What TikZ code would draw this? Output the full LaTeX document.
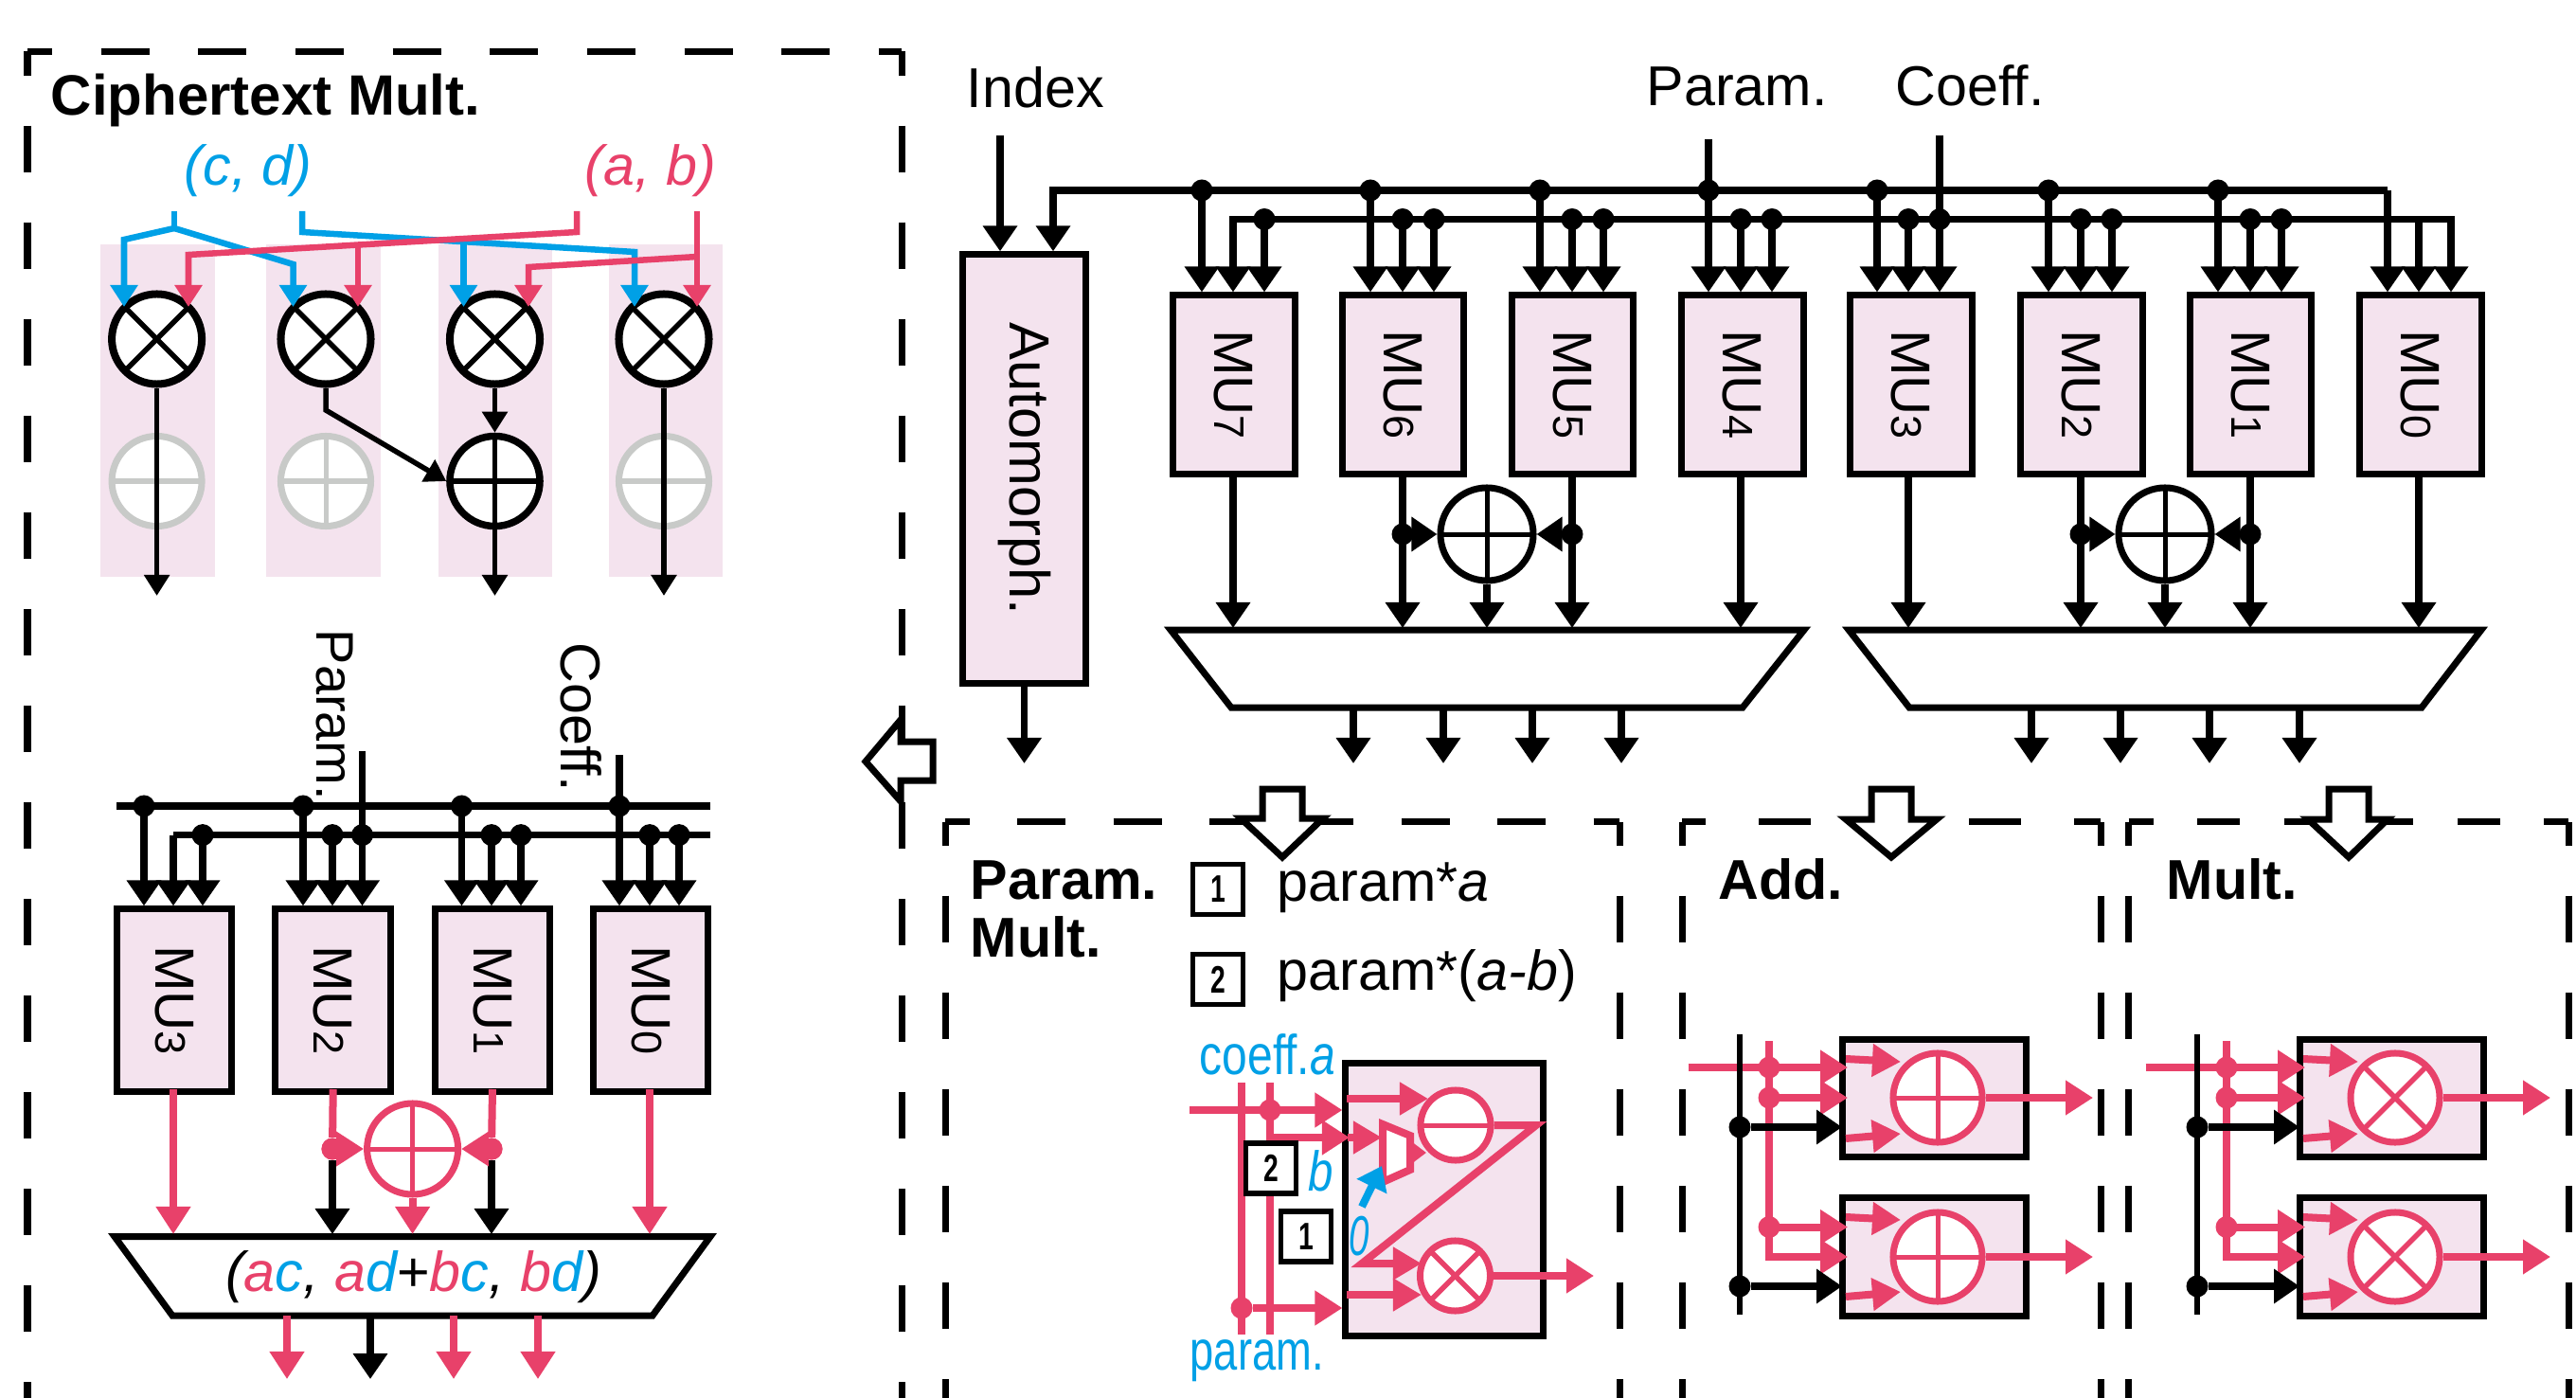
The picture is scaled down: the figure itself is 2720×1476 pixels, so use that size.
\documentclass[tikz,border=0pt]{standalone}
\usepackage{fontspec}
\setmainfont{Liberation Sans}
\usetikzlibrary{arrows.meta}
\definecolor{cpink}{HTML}{F4E3EE}
\definecolor{cred}{HTML}{E8416A}
\definecolor{cblue}{HTML}{00A0E6}
\definecolor{cgrey}{HTML}{C8CAC8}
\newcommand{\mulab}[1]{\rotatebox{-90}{\fontsize{16.6}{18}\selectfont MU\fontsize{12.8}{14}\selectfont #1}}
\newcommand{\nar}[2]{\scalebox{#1}[1]{#2}}
\tikzset{
  wire/.style={line width=.075cm,black},
  rwire/.style={line width=.08cm,cred},
  bwire/.style={line width=.065cm,cblue},
  tipk/.style={-{Triangle[length=.27cm,width=.35cm]}},
  arr/.style={wire,tipk},
  rarr/.style={rwire,-{Triangle[length=.29cm,width=.35cm]}},
  sarr/.style={line width=.065cm,#1,-{Triangle[length=.23cm,width=.28cm]}},
  karr/.style={line width=.055cm,-{Triangle[length=.22cm,width=.26cm]}},
  inarr/.style={rwire,-{Triangle[length=.3cm,width=.33cm]}},
  mubox/.style={draw=black,fill=cpink,line width=.07cm,inner sep=0,minimum height=1.88cm},
  dot/.style={circle,fill=#1,inner sep=0,minimum size=.23cm},
  dot/.default=black,
  cbase/.style={circle,draw=#1,fill=white,line width=.07cm,inner sep=0,minimum size=.95cm},
  oplusn/.style={cbase=#1,path picture={
     \draw[#1,line width=.05cm] (path picture bounding box.north) -- (path picture bounding box.south);
     \draw[#1,line width=.05cm] (path picture bounding box.west) -- (path picture bounding box.east);}},
  otimesn/.style={cbase=#1,path picture={
     \draw[#1,line width=.055cm] (path picture bounding box.north west) -- (path picture bounding box.south east);
     \draw[#1,line width=.055cm] (path picture bounding box.north east) -- (path picture bounding box.south west);}},
  minusn/.style={cbase=#1,path picture={
     \draw[#1,line width=.05cm] (path picture bounding box.west) -- (path picture bounding box.east);}},
  addcell/.style={oplusn=cred,minimum size=.94cm},
  mulcell/.style={otimesn=cred,minimum size=.94cm},
  txt/.style={inner sep=0,font=\fontsize{16.85}{18}\selectfont},
  btxt/.style={inner sep=0,font=\fontsize{16.85}{17.36}\bfseries\selectfont},
  legbox/.style={draw=black,fill=white,line width=.055cm,inner sep=0,minimum width=.53cm,minimum height=.53cm,font=\fontsize{11.5}{12}\bfseries\selectfont},
  dashtop/.style={line width=.07cm,dash pattern=on .51cm off .516cm,dash phase=.25cm},
  dashside/.style={line width=.07cm,dash pattern=on .49cm off .53cm,dash phase=.24cm},
  bigarr/.style={draw=black,fill=white,line width=.07cm,line join=miter},
  trap/.style={draw=black,fill=white,line width=.07cm,line join=miter},
}
\begin{document}
\begin{tikzpicture}[x=.01cm,y=-.01cm]
\useasboundingbox (0,0) rectangle (2720,1476);
\fill[white] (0,0) rectangle (2720,1476);

% ---------- dashed frames
\draw[dashtop] (29,54.5) -- (952,54.5);
\draw[dashside] (29,54.5) -- (29,1476);
\draw[dashside] (952,54.5) -- (952,1476);
\draw[line width=.07cm,dash pattern=on .51cm off .503cm,dash phase=.25cm] (998,867.6) -- (1710,867.6);
\draw[dashside] (998,867.6) -- (998,1476);
\draw[dashside] (1710,867.6) -- (1710,1476);
\draw[line width=.07cm,dash pattern=on .55cm off .56cm,dash phase=.30cm] (1776,867.6) -- (2218,867.6);
\draw[dashside] (1776,867.6) -- (1776,1476);
\draw[dashside] (2218,867.6) -- (2218,1476);
\draw[line width=.07cm,dash pattern=on .45cm off .465cm,dash phase=.19cm] (2247.5,867.6) -- (2712,867.6);
\draw[dashside] (2247.5,867.6) -- (2247.5,1476);
\draw[dashside] (2712,867.6) -- (2712,1476);

% ---------- Ciphertext Mult. upper part
\node[btxt,font=\fontsize{17.07}{18}\bfseries\selectfont,anchor=base west] (ttitle) at (53,122) {Ciphertext Mult.};
\node[txt,anchor=base west,text=cblue] (tcd) at (194,196) {\textit{(c, d)}};
\node[txt,anchor=base west,text=cred] (tab) at (617,196) {\textit{(a, b)}};
\foreach \n/\l/\r in {1/106/227,2/281/402,3/463/583,4/642.5/762.5}{
  \fill[cpink] (\l,258) rectangle (\r,609);
}
\foreach \n/\x in {1/165.6,2/344,3/522.5,4/701}{
  \node[otimesn=black,line width=.08cm] (ot\n) at (\x,358) {};
}
\foreach \n/\x in {1/165.6,2/344,4/701}{
  \node[oplusn=cgrey] (pg\n) at (\x,508) {};
}
\node[oplusn=black,line width=.075cm] (pg3) at (522.5,508) {};
\foreach \n in {1,4}{
  \coordinate (e\n) at (ot\n.south |- 0,629);
  \draw[karr] (ot\n.south) -- (e\n);
}
\coordinate (e3) at (pg3.south |- 0,629);
\draw[karr] (pg3.south) -- (e3);
\draw[karr] (ot3.south) -- (pg3.north);
\coordinate (bend2) at (344,433);
\draw[karr] (ot2.south) -- (bend2) -- (pg3.west);
% blue feeds
\coordinate (cd1) at (184,223); \coordinate (cd2) at (184,241);
\coordinate (tb1) at (131,324); \coordinate (tb2) at (309.5,324);
\coordinate (cd3) at (319,223); \coordinate (tb3) at (489.5,324); \coordinate (tb4) at (670,324);
\draw[bwire] (cd1) -- (cd2);
\draw[sarr=cblue] (cd2) -- (131,253) -- (tb1);
\draw[sarr=cblue] (cd2) -- (309.5,279) -- (tb2);
\draw[sarr=cblue] (cd3) -- (319,245) -- (670,266) -- (tb4);
\draw[sarr=cblue] (489.5,256) -- (tb3);
% red feeds
\coordinate (ab1) at (609,223); \coordinate (ab2) at (736,223);
\coordinate (tr1) at (199,324); \coordinate (tr2) at (378,324);
\coordinate (tr3) at (558,324); \coordinate (tr4) at (736,324);
\draw[sarr=cred] (ab1) -- (609,245) -- (199,269) -- (tr1);
\draw[sarr=cred] (378,259) -- (tr2);
\draw[sarr=cred] (ab2) -- (tr4);
\draw[sarr=cred] (736,271) -- (558,282) -- (tr3);

% ---------- Ciphertext Mult. lower part
\coordinate (lb1L) at (123,851); \coordinate (lb1R) at (750,851);
\coordinate (lb2R) at (750,881.6);
\coordinate (lpar) at (382.5,793); \coordinate (lcoe) at (654,797);
\node[txt,rotate=-90,anchor=base west,font=\fontsize{15.9}{18}\selectfont] (tlp) at (334,664) {Param.};
\node[txt,rotate=-90,anchor=base west] (tlc) at (592,678) {Coeff.};
\draw[wire] (lb1L) -- (lb1R);
\draw[wire] (lpar) -- (382.5,881.6);
\draw[wire] (lcoe) -- (654,851);
\foreach \n/\cx/\a/\b/\c in {3/184/152/183/214,2/351.7/320/351/382.5,1/520/487.5/519/550,0/687/654/686/717}{
  \node[mubox,minimum width=1.215cm,minimum height=1.92cm] (lm\n) at (\cx,1056) {\mulab{\n}};
  \coordinate (la\n) at (\a,851); \coordinate (lb\n) at (\b,881.6); \coordinate (lc\n) at (\c,881.6);
  \draw[arr] (la\n) -- (la\n |- lm\n.north);
  \draw[arr] (lb\n) -- (lb\n |- lm\n.north);
  \draw[arr] (lc\n) -- (lc\n |- lm\n.north);
  \node[dot] (lda\n) at (la\n) {};
  \node[dot] (ldc\n) at (lc\n) {};
}
\foreach \n in {2,1,0}{ \node[dot] (ldb\n) at (lb\n) {}; }
\draw[wire] (lb3) -- (lb2R);

\draw[trap] (121,1305.6) -- (750,1305.6) -- (689,1389) -- (182,1389) -- cycle;
\node[txt,anchor=base] (tlt) at (436.5,1363) {\itshape (\textcolor{cred}{a}\textcolor{cblue}{c}, \textcolor{cred}{a}\textcolor{cblue}{d}\upshape+\itshape\textcolor{cred}{b}\textcolor{cblue}{c}, \textcolor{cred}{b}\textcolor{cblue}{d})};
\node[oplusn=cred,minimum size=.96cm] (lop) at (435.6,1213) {};
\node[dot=cred] (ld2) at (351,1213) {};
\node[dot=cred] (ld1) at (519,1213) {};
\draw[rwire] (lm2.south |- 0,1150) -- (ld2);
\draw[rwire] (lm1.south |- 0,1150) -- (ld1);
\draw[arr] (ld2) -- (351,1303);
\draw[arr] (ld1) -- (519,1303);
\node[dot=cred] at (ld2) {};
\node[dot=cred] at (ld1) {};
\draw[rarr] (ld2) -- (lop.west);
\draw[rarr] (ld1) -- (lop.east);
\draw[rarr] (lop.south) -- (435.6,1303);
\draw[rarr] (183,1150) -- (183,1303);
\draw[rarr] (686,1150) -- (686,1303);
\foreach \x in {303,479,568}{ \draw[rarr] (\x,1389) -- (\x,1456); }
\draw[arr] (391,1389) -- (391,1456);

% ---------- main unit, top right
\node[txt,anchor=base west] (tidx) at (1020,114) {Index};
\node[txt,anchor=base west] (tpar) at (1738,112) {Param.};
\node[txt,anchor=base west] (tcoe) at (2001,112) {Coeff.};
\node[mubox,minimum width=1.29cm,minimum height=4.52cm] (auto) at (1081.5,495) {\rotatebox{-90}{\fontsize{17}{18}\selectfont Automorph.}};
\coordinate (idx) at (1056,143);
\coordinate (bus1L) at (1112,201);
\coordinate (bus2L) at (1302,231.5);
\coordinate (bus2R) at (2588,231.5);
\coordinate (par) at (1804,147);
\coordinate (coe) at (2048,143);
\draw[arr] (idx) -- (idx |- auto.north);
\draw[wire] (par) -- (1804,201);
\draw[wire] (coe) -- (2048,231.5);
\foreach \n/\cx/\w/\a/\b/\c in {7/1302.75/129.5/1269/1302/1335,6/1481/128/1447/1481/1514,5/1660/128/1626/1660/1693,4/1839.5/129/1804/1838/1871,3/2017.5/129/1982/2015/2048,2/2197.5/129/2163/2197/2230,1/2376/128/2342/2376/2409,0/2555.5/129/2521/2554/2588}{
  \node[mubox,minimum width=\w*.01cm] (mu\n) at (\cx,406) {\mulab{\n}};
  \coordinate (a\n) at (\a,201); \coordinate (b\n) at (\b,231.5); \coordinate (c\n) at (\c,231.5);
  \draw[arr] (a\n) -- (a\n |- mu\n.north);
  \draw[arr] (b\n) -- (b\n |- mu\n.north);
  \draw[arr] (c\n) -- (c\n |- mu\n.north);
}
\draw[wire,tipk,line join=miter] (a0 |- bus1L) -- (bus1L) -- (bus1L |- auto.north);
\draw[wire,line cap=rect] (bus2L) -- (bus2R);
\foreach \n in {7,6,5,4,3,2,1}{
  \node[dot] (da\n) at (a\n) {};
  \node[dot] (dc\n) at (c\n) {};
}
\foreach \n in {6,5,4,3,2,1}{ \node[dot] (db\n) at (b\n) {}; }

\draw[trap] (1236,665) -- (1905,665) -- (1840,747) -- (1300,747) -- cycle;
\draw[trap] (1952,665) -- (2620,665) -- (2557,747) -- (2016,747) -- cycle;
\node[oplusn=black,minimum size=.98cm] (op1) at (1570,564) {};
\node[oplusn=black,minimum size=.98cm] (op2) at (2286,564) {};
\node[dot] (od6) at (1481,564) {};
\node[dot] (od5) at (1660,564) {};
\node[dot] (od2) at (2197,564) {};
\node[dot] (od1) at (2376,564) {};
\draw[arr] (od6) -- (op1.west);
\draw[arr] (od5) -- (op1.east);
\draw[arr] (od2) -- (op2.west);
\draw[arr] (od1) -- (op2.east);
\foreach \n/\x in {7/1302,6/1481,5/1660,4/1838,3/2015,2/2197,1/2376,0/2554}{
  \draw[arr] (mu\n.south -| \x,0) -- (\x,663);
}
\draw[arr] (op1.south) -- (1570,663);
\draw[arr] (op2.south) -- (2286,663);
\foreach \x in {1429,1524,1618,1712,2145,2239,2333,2428}{ \draw[arr] (\x,747) -- (\x,806); }
\draw[arr] (auto.south) -- (auto.south |- 0,806);

% ---------- big open arrows
\draw[bigarr] (914,804) -- (951,760) -- (951,783) -- (985,783) -- (985,824) -- (951,824) -- (951,846) -- cycle;
\draw[bigarr] (1354,905) -- (1310,864) -- (1333,864) -- (1333,833) -- (1375,833) -- (1375,864) -- (1397,864) -- cycle;
\draw[bigarr] (1997,905) -- (1949,865) -- (1976,865) -- (1976,833) -- (2018,833) -- (2018,865) -- (2045,865) -- cycle;
\draw[bigarr] (2480,905) -- (2437,865) -- (2459,865) -- (2459,833) -- (2501,833) -- (2501,865) -- (2521,865) -- cycle;

% ---------- Param. Mult.
\node[btxt,align=left,anchor=south west] (tpm) at (1024,1012) {Param.\\Mult.};
\node[legbox] (k1) at (1286,939) {\nar{.7}{1}};
\node[legbox] (k2) at (1286,1034) {\nar{.7}{2}};
\node[txt,anchor=base west] (t1) at (1348,951.6) {param*\textit{a}};
\node[txt,anchor=base west] (t2) at (1348,1045) {param*(\textit{a-b})};
\node[txt,anchor=base west,text=cblue] (tco) at (1266,1134) {\nar{.81}{coeff.\textit{a}}};
\node[txt,anchor=base west,text=cblue] (tpa) at (1256,1446.5) {\nar{.765}{param.}};
\node[mubox,minimum width=2.08cm,minimum height=2.87cm] (pm) at (1525,1266.5) {};
\coordinate (pv1T) at (1311,1143); \coordinate (pv1B) at (1311,1409);
\coordinate (pv2T) at (1341,1143); \coordinate (pv2B) at (1341,1409);
\coordinate (pin) at (1256,1172);
\draw[rwire] (pv1T) -- (pv1B);
\draw[rwire] (pv2T) -- (pv2B);
\node[dot=cred] (pd2) at (1341,1172) {};
\node[dot=cred] (pd1) at (1311,1381) {};
\draw[rarr] (pin) -- (pin -| pm.west);
\draw[rarr] (1341,1201) -- (1425,1201);
\draw[rarr] (pd1) -- (pd1 -| pm.west);
\node[legbox] (k2b) at (1342,1233.5) {\nar{.7}{2}};
\node[legbox] (k1b) at (1379,1305.5) {\nar{.7}{1}};
\node[minusn=cred,minimum size=.74cm,line width=.07cm] (pminus) at (1537,1188) {};
\node[mulcell,minimum size=.74cm,line width=.07cm] (ptimes) at (1536.5,1347) {};
\draw[rwire,line join=miter] (pminus.east) -- (1622,1188) -- (1438,1334) -- (1475,1334);
\draw[inarr] (1475,1334) -- (1501,1334);
\draw[inarr] (1422,1160) -- (1508,1160);
\draw[inarr] (1422,1367) -- (1501,1367);
\draw[rwire,draw=cred,fill=white,line join=miter] (1460,1187) -- (1489,1199) -- (1489,1235) -- (1460,1248) -- cycle;
\draw[inarr] (1423,1201) -- (1459,1201);
\draw[rwire,-{Triangle[length=.18cm,width=.26cm]}] (1489,1217) -- (1506,1217);
\draw[line width=.08cm,cblue,-{Triangle[length=.24cm,width=.34cm]}] (1438,1274) -- (1459,1231);
\node[txt,anchor=base west,text=cblue] (tb) at (1381,1257) {\nar{.8}{\textit{b}}};
\node[txt,anchor=base west,text=cblue] (t0) at (1424,1325) {\nar{.65}{\textit{0}}};
\draw[rarr] (ptimes.east) -- (1683,1347);

% ---------- Add. and Mult.
\node[btxt,anchor=base west] (tadd) at (1814,949.5) {Add.};
\node[btxt,anchor=base west] (tmul) at (2287,949.5) {Mult.};
\foreach \s/\dx/\cell in {a/0/addcell,m/483/mulcell}{
\begin{scope}[shift={(\dx,0)}]
  \node[mubox,minimum width=1.93cm,minimum height=1.23cm] (\s U) at (2042.5,1159.5) {};
  \node[mubox,minimum width=1.93cm,minimum height=1.24cm] (\s L) at (2042.5,1327) {};
  \coordinate (\s rT) at (1868,1099);
  \coordinate (\s rB) at (1868,1327);
  \coordinate (\s in) at (1782.5,1127);
  \draw[rwire,line join=miter] (\s rT) -- (\s rB) -- (1925,1327);
  \draw[rarr] (\s in) -- (1951,1127);
  \draw[rarr] (1868,1159) -- (1951,1159);
  \draw[rarr] (1868,1295.5) -- (1951,1295.5);
  \draw[rarr] (1868,1327) -- (1951,1327);
  \coordinate (\s kT) at (1837,1091.5);
  \coordinate (\s kB) at (1837,1388);
  \draw[line width=.055cm] (\s kT) -- (\s kB);
  \node[dot=cred] (\s d1) at (1868,1127) {};
  \node[dot=cred] (\s d2) at (1868,1159) {};
  \node[dot=cred] (\s d3) at (1868,1295.5) {};
  \node[dot] (\s k1) at (1837,1190) {};
  \node[dot] (\s k2) at (1837,1358) {};
  \draw[arr] (\s k1) -- (1945,1190);
  \draw[arr] (\s k2) -- (1945,1358);
  \node[\cell] (\s cU) at (2046,1159) {};
  \node[\cell] (\s cL) at (2046,1327) {};
  \draw[rarr] (\s cU.east) -- (2210,1159);
  \draw[rarr] (\s cL.east) -- (2210,1327);
  \draw[inarr] (1949,1118) -- (2007,1121);
  \draw[inarr] (1949,1202) -- (2007,1197);
  \draw[inarr] (1949,1285) -- (2007,1288);
  \draw[inarr] (1949,1369) -- (2007,1364);
\end{scope}
}
\end{tikzpicture}
\end{document}
